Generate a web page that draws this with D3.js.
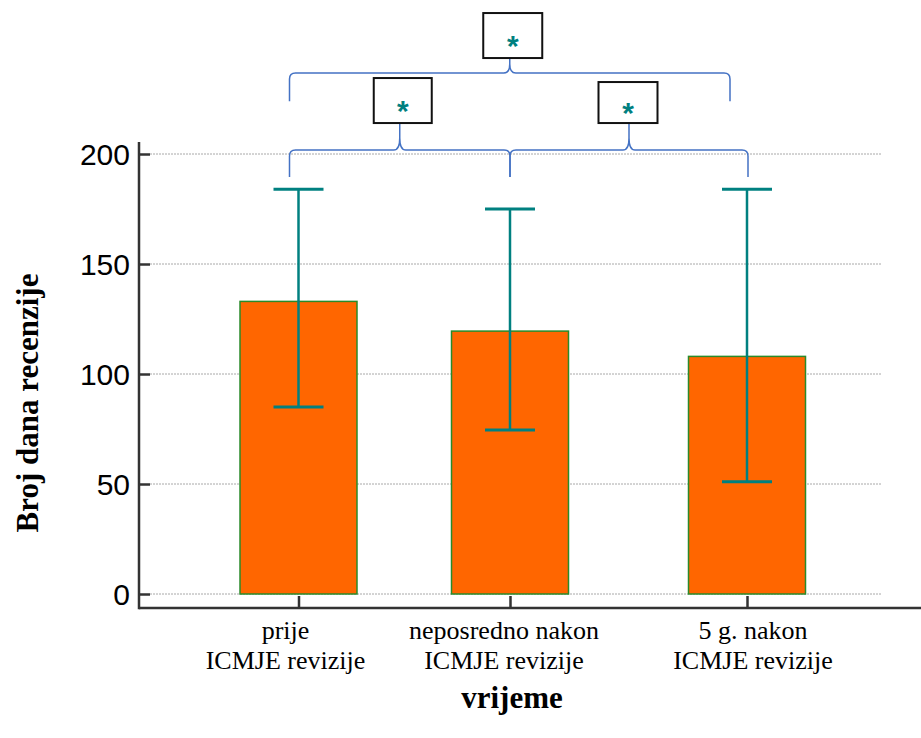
<!DOCTYPE html>
<html>
<head>
<meta charset="utf-8">
<script src="https://cdn.jsdelivr.net/npm/d3@7"></script>
<style>
  html, body { margin: 0; padding: 0; background: #fff; }
  svg { display: block; }
</style>
</head>
<body>
<svg id="chart" width="921" height="738"></svg>
<script>
// ---- data ----
const categories = ["prije", "neposredno nakon", "5 g. nakon"];
const labelLine2 = ["ICMJE revizije", "ICMJE revizije", "ICMJE revizije"];
const means = [133, 119.5, 108];
const errUpper = [184, 175, 184];
const errLower = [85, 74.5, 51];
const yTicks = [0, 50, 100, 150, 200];
const yTitle = "Broj dana recenzije";
const xTitle = "vrijeme";
// significance brackets: pairs of category indices
const sigFrom = [0, 1, 0];
const sigTo = [1, 2, 2];
const sigLabel = ["*", "*", "*"];

// ---- layout ----
const svg = d3.select("#chart");
const y = d3.scaleLinear().domain([0, 200]).range([594, 154]);
const x = d3.scaleOrdinal().domain(categories).range([298.5, 510, 747]);
const barW = 117;
const axisX = 139, axisY = 608;

// gridlines
svg.append("g").selectAll("line").data(yTicks).join("line")
  .attr("x1", 150).attr("x2", 882)
  .attr("y1", d => y(d)).attr("y2", d => y(d))
  .attr("stroke", "#a8a8a8").attr("stroke-width", 1)
  .attr("stroke-dasharray", "2,1");

// bars
svg.append("g").selectAll("rect").data(categories).join("rect")
  .attr("x", d => x(d) - barW / 2)
  .attr("width", barW)
  .attr("y", (d, i) => y(means[i]))
  .attr("height", (d, i) => y(0) - y(means[i]))
  .attr("fill", "#FF6600")
  .attr("stroke", "#2a8a2a").attr("stroke-width", 1.5);

// error bars
const eb = svg.append("g").attr("stroke", "#008080");
categories.forEach((c, i) => {
  const cx = x(c);
  eb.append("line").attr("x1", cx).attr("x2", cx)
    .attr("y1", y(errUpper[i])).attr("y2", y(errLower[i])).attr("stroke-width", 2.5);
  [errUpper[i], errLower[i]].forEach(v => {
    eb.append("line").attr("x1", cx - 25).attr("x2", cx + 25)
      .attr("y1", y(v)).attr("y2", y(v)).attr("stroke-width", 3);
  });
});

// axes
const yAxis = d3.axisLeft(y).tickValues(yTicks).tickSize(-11).tickPadding(20);
const gy = svg.append("g").attr("transform", `translate(${axisX},0)`).call(yAxis);
gy.select(".domain").remove();
gy.selectAll(".tick line").attr("stroke", "#333").attr("stroke-width", 2.5);
gy.selectAll(".tick text")
  .attr("font-family", "'Liberation Sans', Arial, sans-serif")
  .attr("font-size", 30).attr("fill", "#000").attr("x", -9).attr("dy", "0.36em");

svg.append("line").attr("x1", axisX).attr("x2", axisX).attr("y1", 142).attr("y2", axisY + 1.25)
  .attr("stroke", "#333").attr("stroke-width", 2.5);
svg.append("line").attr("x1", axisX).attr("x2", 921).attr("y1", axisY).attr("y2", axisY)
  .attr("stroke", "#333").attr("stroke-width", 2.5);

const xAxis = d3.axisBottom(x).tickSize(-12).tickFormat("");
const gx = svg.append("g").attr("transform", `translate(0,${axisY})`).call(xAxis);
gx.select(".domain").remove();
gx.selectAll(".tick line").attr("stroke", "#333").attr("stroke-width", 2.5);

// category labels
const labelDx = [-13, -6, 6];
const lab = svg.append("g")
  .attr("font-family", "'Liberation Serif', 'Times New Roman', serif")
  .attr("font-size", 26).attr("fill", "#000").attr("text-anchor", "middle");
categories.forEach((c, i) => {
  const t = lab.append("text").attr("x", x(c) + labelDx[i]).attr("y", 639);
  t.append("tspan").attr("x", x(c) + labelDx[i]).text(c);
  t.append("tspan").attr("x", x(c) + labelDx[i]).attr("dy", 30).text(labelLine2[i]);
});

// titles
svg.append("text").attr("transform", "translate(38,403) rotate(-90)")
  .attr("text-anchor", "middle")
  .attr("font-family", "'Liberation Serif', 'Times New Roman', serif")
  .attr("font-weight", "bold").attr("font-size", 31).text(yTitle);
svg.append("text").attr("x", 512).attr("y", 708).attr("text-anchor", "middle")
  .attr("font-family", "'Liberation Serif', 'Times New Roman', serif")
  .attr("font-weight", "bold").attr("font-size", 31).text(xTitle);

// significance braces
function bracePath(x0, x1, h, endY, m, tipY) {
  const r = 6;
  const cusp = Math.min(12, (h - tipY) * 0.6);
  return `M${x0},${endY} L${x0},${h + r} Q${x0},${h} ${x0 + r},${h} L${m - 6},${h} ` +
    `C${m - 2},${h} ${m},${h - 3} ${m},${h - cusp} L${m},${tipY} ` +
    `M${m},${h - cusp} C${m},${h - 3} ${m + 2},${h} ${m + 6},${h} L${x1 - r},${h} ` +
    `Q${x1},${h} ${x1},${h + r} L${x1},${endY}`;
}
const braceLevel = [y(201.8), y(201.8), y(236.8)];
const braceEnd = [y(189.5), y(189.5), y(224)];
const braceStartDx = [-9, 0, -9];
const braceEndDx = [0, 1, -17];
const tipLen = [27, 27, 15];
const boxW = [58, 59, 59], boxH = [45, 41, 45];
const boxDx = [3, -1, 3];
const gb = svg.append("g");
sigFrom.forEach((f, i) => {
  const x0 = x(categories[f]) + braceStartDx[i];
  const x1 = x(categories[sigTo[i]]) + braceEndDx[i];
  const m = (x0 + x1) / 2;
  const h = braceLevel[i];
  const tip = h - tipLen[i];
  gb.append("path").attr("d", bracePath(x0, x1, h, braceEnd[i], m, tip))
    .attr("fill", "none").attr("stroke", "#4472C4").attr("stroke-width", 1.5);
  const bx = m + boxDx[i];
  gb.append("rect").attr("x", bx - boxW[i] / 2).attr("y", tip - boxH[i])
    .attr("width", boxW[i]).attr("height", boxH[i])
    .attr("fill", "#fff").attr("stroke", "#111").attr("stroke-width", 2);
  gb.append("text").attr("x", bx).attr("y", tip - boxH[i] / 2 + 20)
    .attr("text-anchor", "middle")
    .attr("font-family", "'Liberation Sans', Arial, sans-serif")
    .attr("font-weight", "bold")
    .attr("font-size", 30).attr("fill", "#008080").text(sigLabel[i]);
});
</script>
</body>
</html>
